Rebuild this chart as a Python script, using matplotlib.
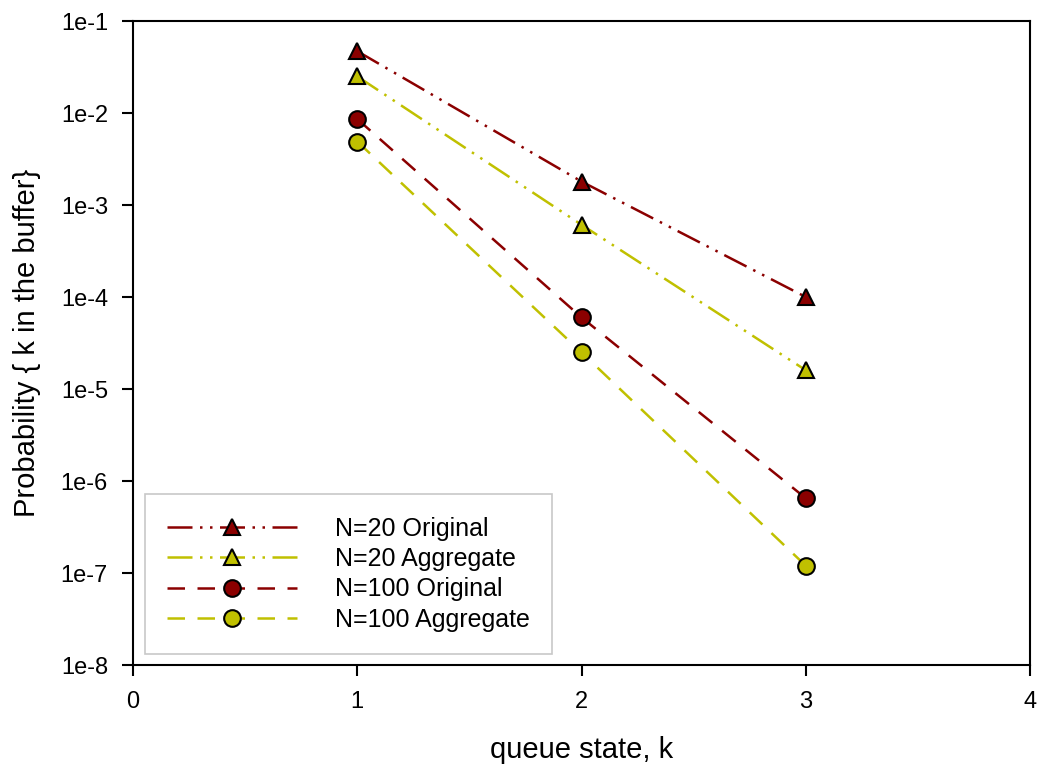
import matplotlib
matplotlib.use('Agg')
import matplotlib.pyplot as plt

plt.rcParams['font.family'] = ['Liberation Sans', 'DejaVu Sans']

# data
k = [1, 2, 3]
n20_original = [4.7e-2, 1.8e-3, 1.0e-4]
n20_aggregate = [2.5e-2, 6.1e-4, 1.6e-5]
n100_original = [8.6e-3, 6.0e-5, 6.5e-7]
n100_aggregate = [4.9e-3, 2.5e-5, 1.2e-7]

labels = ['N=20 Original', 'N=20 Aggregate', 'N=100 Original', 'N=100 Aggregate']
x_ticks = [0, 1, 2, 3, 4]
y_ticks = [1e-8, 1e-7, 1e-6, 1e-5, 1e-4, 1e-3, 1e-2, 1e-1]
y_ticklabels = ['1e-8', '1e-7', '1e-6', '1e-5', '1e-4', '1e-3', '1e-2', '1e-1']

red = '#8b0000'
yel = '#c0c000'
dashdotdot = (0, (10, 3, 1, 3, 1, 3))
dashed = (0, (7, 5))

fig = plt.figure(figsize=(10.44, 7.72), dpi=100)
ax = fig.add_axes([133 / 1044, 1 - 665 / 772, (1030 - 133) / 1044, (665 - 21) / 772])

series = [n20_original, n20_aggregate, n100_original, n100_aggregate]
colors = [red, yel, red, yel]
markers = ['^', '^', 'o', 'o']
styles = [dashdotdot, dashdotdot, dashed, dashed]
for vals, c, m, ls, lab in zip(series, colors, markers, styles, labels):
    ax.plot(k, vals, color=c, linestyle=ls, linewidth=1.8, marker=m, markersize=12,
            markerfacecolor=c, markeredgecolor='black', markeredgewidth=1.5, label=lab)

ax.set_yscale('log')
ax.set_xlim(0, 4)
ax.set_ylim(1e-8, 1e-1)
ax.set_xticks(x_ticks)
ax.set_xticklabels([str(t) for t in x_ticks])
ax.set_yticks(y_ticks)
ax.set_yticklabels(y_ticklabels)
ax.minorticks_off()
ax.tick_params(direction='out', length=8, width=1.5, labelsize=17, top=False, right=False)
ax.tick_params(axis='x', pad=11)
ax.tick_params(axis='y', pad=10)
for s in ax.spines.values():
    s.set_linewidth(1.5)

ax.set_xlabel('queue state, k', fontsize=21, labelpad=16)
ax.set_ylabel('Probability { k in the buffer}', fontsize=21, labelpad=14)

leg = ax.legend(loc='lower left', bbox_to_anchor=(0.013, 0.017), fontsize=18, handlelength=5.2,
                handletextpad=1.5, borderpad=0.9, labelspacing=0.25, fancybox=False, framealpha=1,
                borderaxespad=0)
leg.get_frame().set_edgecolor('#c8c8c8')
leg.get_frame().set_linewidth(1.2)

fig.savefig('out.png', dpi=100)
